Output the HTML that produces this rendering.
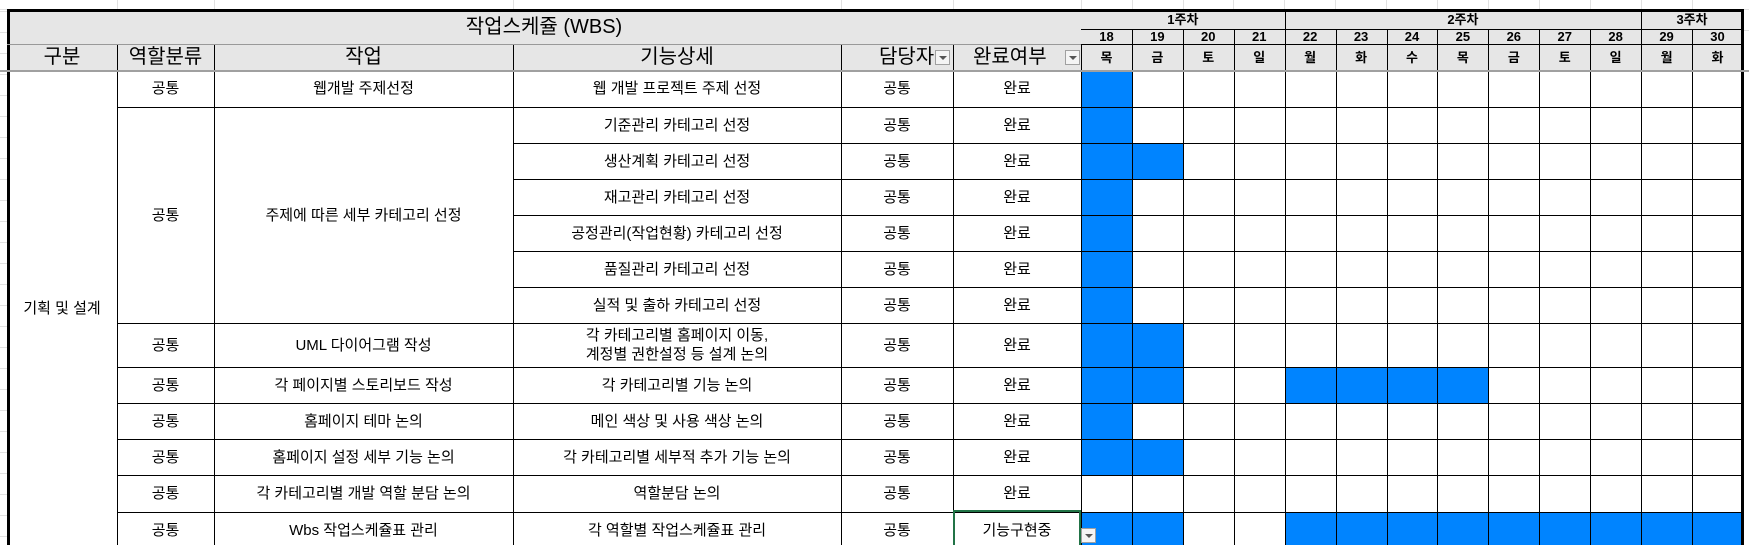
<!DOCTYPE html>
<html><head><meta charset="utf-8">
<style>
html,body{margin:0;padding:0;background:#fff;}
#wrap{position:relative;width:1749px;height:545px;overflow:hidden;font-family:"Liberation Sans","Noto Sans CJK KR","NanumGothic",sans-serif;color:#000;}
.c{position:absolute;box-sizing:border-box;display:flex;align-items:center;justify-content:center;text-align:center;font-size:15px;line-height:19px;white-space:nowrap;}
.hl{position:absolute;background:#000;}
.filt{position:absolute;width:15px;height:15px;border:1px solid #a0a0a0;background:#f4f4f4;box-sizing:border-box;}
.filt:after{content:"";position:absolute;left:3px;top:5px;border-left:4px solid transparent;border-right:4px solid transparent;border-top:4px solid #555;}
</style></head><body>
<div id="wrap"></div>
<script>
const dayNums=[18,19,20,21,22,23,24,25,26,27,28,29,30];
const dayNames=['목','금','토','일','월','화','수','목','금','토','일','월','화'];
const weeks=[['1주차',0,4],['2주차',4,11],['3주차',11,13]];
const roles=['공통','공통','공통','공통','공통','공통','공통','공통','공통','공통','공통','공통','공통'];
const tasks=['웹개발 주제선정','주제에 따른 세부 카테고리 선정','','','','','','UML 다이어그램 작성','각 페이지별 스토리보드 작성','홈페이지 테마 논의','홈페이지 설정 세부 기능 논의','각 카테고리별 개발 역할 분담 논의','Wbs 작업스케쥴표 관리'];
const details=['웹 개발 프로젝트 주제 선정','기준관리 카테고리 선정','생산계획 카테고리 선정','재고관리 카테고리 선정','공정관리(작업현황) 카테고리 선정','품질관리 카테고리 선정','실적 및 출하 카테고리 선정','각 카테고리별 홈페이지 이동,<br>계정별 권한설정 등 설계 논의','각 카테고리별 기능 논의','메인 색상 및 사용 색상 논의','각 카테고리별 세부적 추가 기능 논의','역할분담 논의','각 역할별 작업스케쥴표 관리'];
const owners=['공통','공통','공통','공통','공통','공통','공통','공통','공통','공통','공통','공통','공통'];
const status=['완료','완료','완료','완료','완료','완료','완료','완료','완료','완료','완료','완료','기능구현중'];
const filled=[[0],[0],[0,1],[0],[0],[0],[0],[0,1],[0,1,4,5,6,7],[0],[0,1],[],[0,1,4,5,6,7,8,9,10,11,12]];
const rowH=[37,36,36,36,36,36,36,44,36,36,36,37,36];

const W=document.getElementById('wrap');
const X=[7,117,214,513,841,953,1081];
const DX=i=>1081+i*50.92;
const Y0=70;
const rowY=[];let yy=Y0;for(const h of rowH){rowY.push(yy);yy+=h;}rowY.push(yy);
function cell(x,y,w,h,html,name,st){const d=document.createElement('div');d.className='c';
d.style.left=x+'px';d.style.top=y+'px';d.style.width=w+'px';d.style.height=h+'px';
if(st)Object.assign(d.style,st);d.innerHTML=html;


W.appendChild(d);return d;}
function line(x,y,w,h,col,name){const d=document.createElement('div');d.className='hl';
d.style.left=x+'px';d.style.top=y+'px';d.style.width=w+'px';d.style.height=h+'px';if(col)d.style.background=col;


W.appendChild(d);}
// excel gridlines outside table
for(let gy=-10;gy<545;gy+=21){line(0,gy,7,1,'#e1e1e1','gridline');}
line(0,9,1749,1,'#e1e1e1','gridline');line(1744,30,5,1,'#e1e1e1','gridline');
[117,214,513,841,953,1081,1132,1183,1233,1284,1335,1386,1437,1488,1539,1590,1641,1692].forEach(x=>line(x,0,1,10,'#e1e1e1','gridline'));
// white table body
const bg=document.createElement('div');bg.style.cssText='position:absolute;left:7px;top:10px;width:1737px;height:535px;background:#fff;';

W.appendChild(bg);
// header backgrounds
cell(7,10,1074,34,'작업스케쥴 (WBS)','title-cell',{background:'#e6e6e6',fontSize:'20px'});
cell(1081,10,662,60,'','date-header-bg',{background:'#e6e6e6'});
const hdr=['구분','역할분류','작업','기능상세','담당자','완료여부'];
for(let i=0;i<6;i++){cell(X[i],44,X[i+1]-X[i],26,hdr[i],'header-'+i,{background:'#e6e6e6',fontSize:'20px',justifyContent:i>=4?'flex-start':'center',paddingLeft:i==4?'38px':(i==5?'20px':'0')});}
[[935,50],[1065,50]].forEach(p=>{const f=document.createElement('div');f.className='filt';f.style.left=p[0]+'px';f.style.top=p[1]+'px';

W.appendChild(f);});
for(const w of weeks){cell(DX(w[1]),10,DX(w[2])-DX(w[1]),19,w[0],'week-label',{fontWeight:'bold',fontSize:'13px'});}
for(let i=0;i<13;i++){cell(DX(i),29,50.92,15,String(dayNums[i]),'date-'+dayNums[i],{fontWeight:'bold',fontSize:'13px'});
cell(DX(i),44,50.92,26,dayNames[i],'weekday-'+dayNums[i],{fontWeight:'bold',fontSize:'13px'});}
// data
cell(X[0],Y0,X[1]-X[0],2*(308-Y0),'기획 및 설계','category-cell');
for(let r=0;r<13;r++){
 const y=rowY[r],h=rowH[r];
 if(r===1){cell(X[1],y,X[2]-X[1],rowY[7]-y,roles[r],'role-cell');cell(X[2],y,X[3]-X[2],rowY[7]-y,tasks[r],'task-cell');}
 else if(r<1||r>6){cell(X[1],y,X[2]-X[1],h,roles[r],'role-cell');cell(X[2],y,X[3]-X[2],h,tasks[r],'task-cell');}
 cell(X[3],y,X[4]-X[3],h,details[r],'detail-cell');
 cell(X[4],y,X[5]-X[4],h,owners[r],'owner-cell');
 cell(X[5],y,X[6]-X[5],h,status[r],'status-cell');
 for(const i of filled[r]){cell(DX(i),y,50.92,h,'','gantt-bar',{background:'#0084ff'});}
}
// vertical lines
[117,214,513,841,953,1081].forEach(x=>line(x,44,1,501,'#000','column-border'));
for(let i=1;i<13;i++){line(Math.round(DX(i)),29,1,516,'#000','day-border');}
line(7,9,3,536,'#000','left-border');line(1741,9,3,536,'#000','right-border');
line(7,9,1737,3,'#000','top-border');
line(7,44,1074,1,'#999','title-bottom');
line(1081,29,662,1,'#000','week-bottom');line(1081,44,662,1,'#000','date-bottom');
for(let i=1;i<3;i++){line(Math.round(DX(weeks[i][1])),10,1,19,'#000','week-border');}
line(0,70,1749,2,'#a0a0a0','header-bottom');
// horizontal row lines
for(let r=1;r<=13;r++){const y=rowY[r];
 if(r>=2&&r<=6){line(513,y,1230,1,'#000','row-border');}
 else line(117,y,1626,1,'#000','row-border');}
// selection box on last status cell
const s=document.createElement('div');s.style.cssText='position:absolute;left:953px;top:510px;width:128px;height:40px;border:2px solid #217346;box-sizing:border-box;';

W.appendChild(s);
const f2=document.createElement('div');f2.className='filt';f2.style.left='1081px';f2.style.top='528px';

W.appendChild(f2);
</script>
</body></html>
